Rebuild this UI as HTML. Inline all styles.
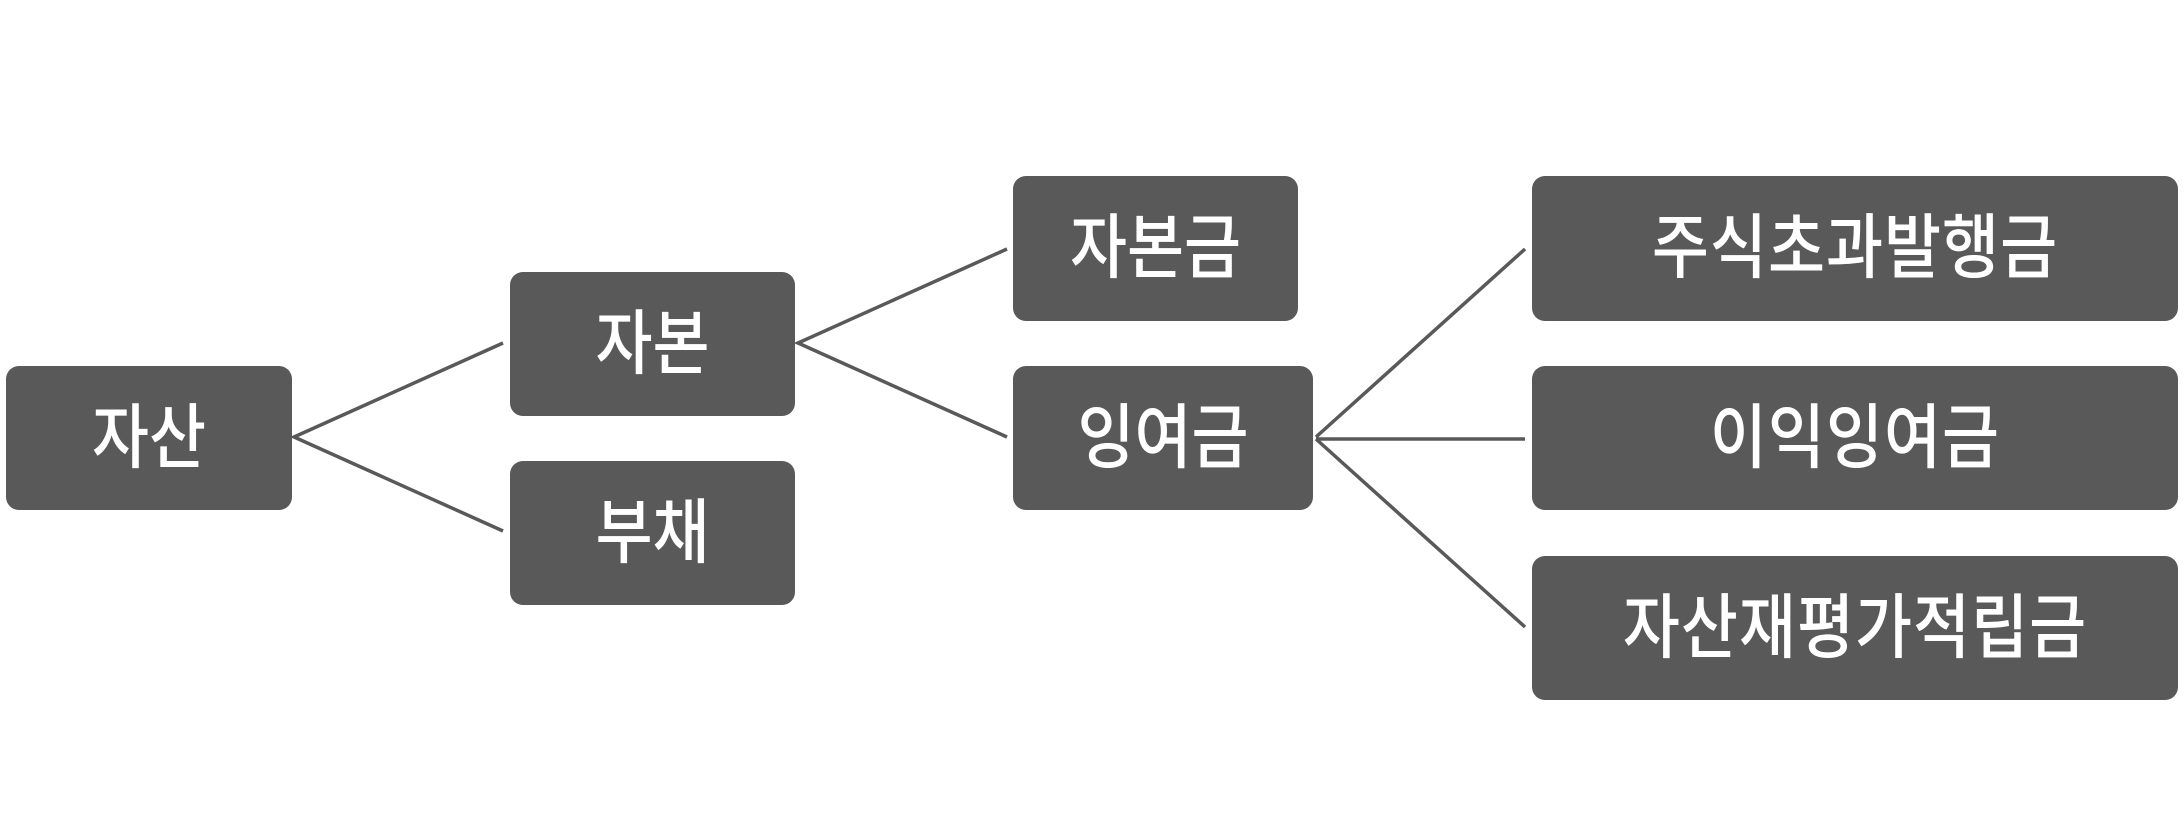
<!DOCTYPE html>
<html><head><meta charset="utf-8"><style>
html,body{margin:0;padding:0;background:#fff;}
body{width:2184px;height:840px;position:relative;overflow:hidden;}
.b{position:absolute;background:#595959;border-radius:13px;color:#fff;display:flex;align-items:center;justify-content:center;font-family:"Liberation Sans","Noto Sans CJK KR",sans-serif;font-size:62px;font-weight:500;}
.b span{display:inline-block;transform:scaleY(1.14);margin-top:-15px;}
.w span{letter-spacing:1px;}
svg{position:absolute;left:0;top:0;}
</style></head><body>
<svg width="2184" height="840"><g stroke="#595959" stroke-width="3.5" fill="none">
<polyline points="503,343 294,437 503,531"/>
<polyline points="1007,249 798,343 1007,437"/>
<line x1="1316" y1="437" x2="1525" y2="249"/>
<line x1="1316" y1="439" x2="1525" y2="439"/>
<line x1="1316" y1="439" x2="1525" y2="627"/>
</g></svg>
<div class="b" style="left:6px;top:366px;width:286px;height:144px;"><span>자산</span></div>
<div class="b" style="left:510px;top:272px;width:285px;height:144px;"><span>자본</span></div>
<div class="b" style="left:510px;top:461px;width:285px;height:144px;"><span>부채</span></div>
<div class="b" style="left:1013px;top:176px;width:285px;height:145px;"><span>자본금</span></div>
<div class="b" style="left:1013px;top:366px;width:300px;height:144px;"><span>잉여금</span></div>
<div class="b w" style="left:1532px;top:176px;width:646px;height:145px;"><span>주식초과발행금</span></div>
<div class="b w" style="left:1532px;top:366px;width:646px;height:144px;"><span>이익잉여금</span></div>
<div class="b w" style="left:1532px;top:556px;width:646px;height:144px;"><span>자산재평가적립금</span></div>
</body></html>
